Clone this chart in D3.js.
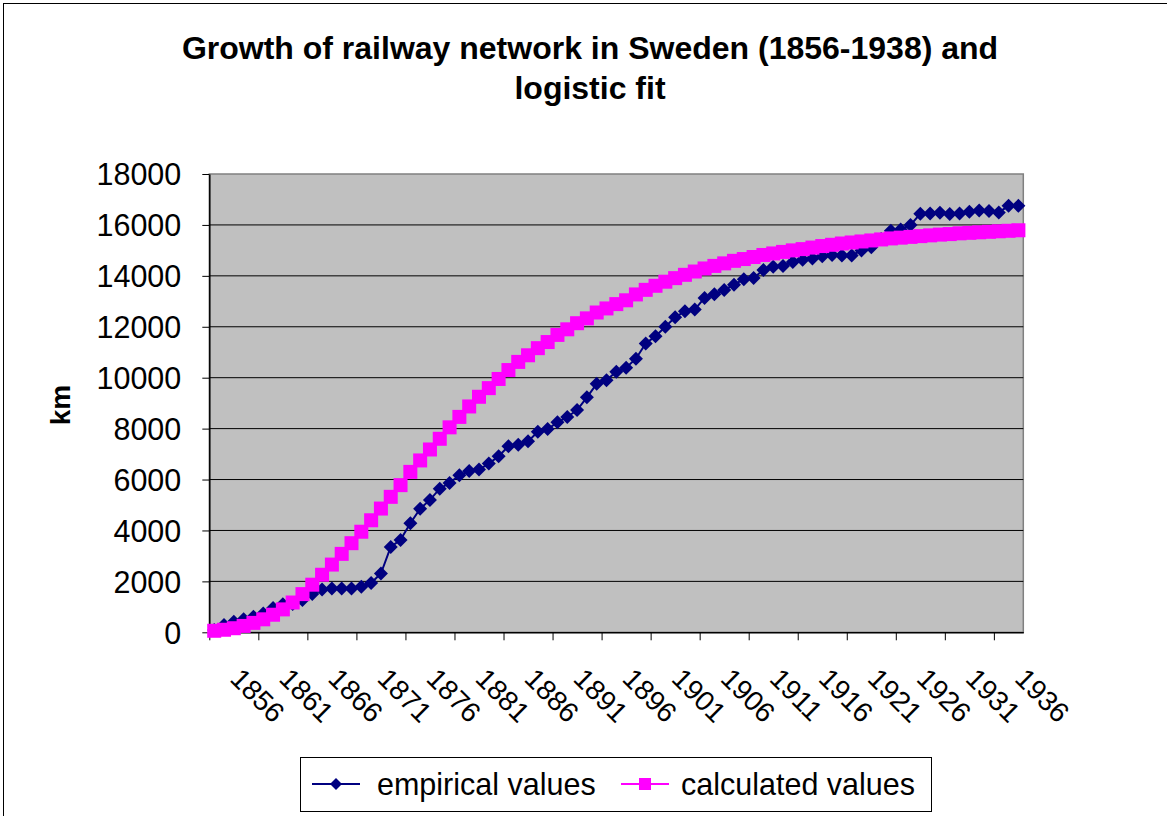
<!DOCTYPE html>
<html>
<head>
<meta charset="utf-8">
<script src="https://cdn.jsdelivr.net/npm/d3@7"></script>
<style>
  html, body { margin: 0; padding: 0; background: #ffffff; }
  svg { display: block; }
  text { font-family: "Liberation Sans", Arial, sans-serif; }
</style>
</head>
<body>
<svg id="chart" width="1167" height="816"></svg>
<script>
const years = [1856,1857,1858,1859,1860,1861,1862,1863,1864,1865,1866,1867,1868,1869,1870,
  1871,1872,1873,1874,1875,1876,1877,1878,1879,1880,1881,1882,1883,1884,1885,1886,1887,1888,
  1889,1890,1891,1892,1893,1894,1895,1896,1897,1898,1899,1900,1901,1902,1903,1904,1905,1906,
  1907,1908,1909,1910,1911,1912,1913,1914,1915,1916,1917,1918,1919,1920,1921,1922,1923,1924,
  1925,1926,1927,1928,1929,1930,1931,1932,1933,1934,1935,1936,1937,1938];

const empirical = [90,290,415,510,612,740,955,1100,1110,1265,1505,1684,1723,1720,1720,
  1790,1935,2310,3350,3630,4285,4855,5200,5640,5868,6165,6336,6390,6626,6915,7310,7370,7500,
  7876,7980,8245,8456,8730,9230,9760,9900,10235,10390,10745,11345,11632,12000,12370,12610,12675,13132,
  13280,13445,13655,13863,13915,14230,14358,14385,14548,14633,14680,14765,14820,14800,14800,15000,15120,15450,
  15770,15820,16000,16440,16450,16480,16430,16450,16520,16570,16550,16490,16750,16750];

const calculated = [60,100,160,250,370,510,690,900,1170,1500,1870,2260,2660,3080,3500,
  3950,4400,4860,5320,5780,6300,6750,7180,7600,8050,8460,8870,9250,9590,9950,10300,10620,10880,
  11160,11400,11680,11900,12140,12330,12560,12720,12890,13040,13270,13450,13610,13770,13910,14040,14170,14290,
  14390,14490,14590,14660,14740,14820,14880,14940,15000,15050,15110,15170,15220,15270,15310,15350,15390,15430,
  15470,15500,15530,15560,15590,15620,15640,15670,15690,15710,15730,15750,15770,15790];

const xTickLabels = ["1856","1861","1866","1871","1876","1881","1886","1891","1896","1901",
  "1906","1911","1916","1921","1926","1931","1936"];
const yTicks = [0,2000,4000,6000,8000,10000,12000,14000,16000,18000];
const seriesNames = ["empirical values","calculated values"];
const titleLines = ["Growth of railway network in Sweden (1856-1938) and","logistic fit"];
const yAxisTitle = "km";

const svg = d3.select("#chart");
const W = 1167, H = 816;
const plot = {left: 209.3, right: 1023.3, top: 174, bottom: 632.3};

svg.append("rect").attr("x",0).attr("y",0).attr("width",W).attr("height",H).attr("fill","#fff");
svg.append("rect").attr("x",3.5).attr("y",3.5).attr("width",1200).attr("height",900)
  .attr("fill","none").attr("stroke","#000").attr("stroke-width",1);

const x = d3.scaleBand().domain(years).range([plot.left, plot.right]).paddingInner(0).paddingOuter(0);
const xIdx = d3.scaleLinear().domain([0, years.length]).range([plot.left, plot.right]);
const y = d3.scaleLinear().domain([0,18000]).range([plot.bottom, plot.top]);
const cx = d => x(d) + x.bandwidth()/2;

svg.append("rect").attr("x",plot.left).attr("y",plot.top)
  .attr("width",plot.right-plot.left).attr("height",plot.bottom-plot.top)
  .attr("fill","#C0C0C0").attr("stroke","#808080").attr("stroke-width",1.5);

svg.append("g").selectAll("line").data(yTicks.filter(v => v>0 && v<18000)).join("line")
  .attr("x1",plot.left).attr("x2",plot.right)
  .attr("y1",d=>y(d)).attr("y2",d=>y(d))
  .attr("stroke","#000").attr("stroke-width",1);

const yAxis = svg.append("g").attr("transform",`translate(${plot.left},0)`)
  .call(d3.axisLeft(y).tickValues(yTicks).tickSize(7).tickSizeOuter(0).tickFormat(d3.format("d")));
yAxis.select(".domain").attr("stroke","#000").attr("stroke-width",1.5);
yAxis.selectAll(".tick line").attr("stroke","#000");
yAxis.selectAll(".tick text").attr("x",-28).attr("dy","0.36em")
  .style("font-size","30.5px").style("font-family","'Liberation Sans', Arial, sans-serif").attr("fill","#000");

const tickIdx = xTickLabels.map(l => years.indexOf(+l));
const xAxis = svg.append("g").attr("transform",`translate(0,${plot.bottom})`)
  .call(d3.axisBottom(xIdx).tickValues(tickIdx).tickSize(8).tickSizeOuter(0)
    .tickFormat((d,i) => xTickLabels[i]));
xAxis.select(".domain").attr("stroke","#000").attr("stroke-width",1.5);
xAxis.selectAll(".tick line").attr("stroke","#000");
xAxis.selectAll(".tick text")
  .attr("y",null).attr("dy",null)
  .attr("text-anchor","start")
  .attr("transform","translate(19,48) rotate(45)")
  .style("font-size","28px").style("font-family","'Liberation Sans', Arial, sans-serif").attr("fill","#000");

const line = d3.line().x((d,i)=>cx(years[i])).y(d=>y(d));
svg.append("path").datum(empirical).attr("d",line)
  .attr("fill","none").attr("stroke","#000080").attr("stroke-width",2);
const diamond = 7;
svg.append("g").selectAll("path").data(empirical).join("path")
  .attr("d",(d,i)=>{const px=cx(years[i]), py=y(d);
    return `M${px},${py-diamond}L${px+diamond},${py}L${px},${py+diamond}L${px-diamond},${py}Z`;})
  .attr("fill","#000080");

svg.append("path").datum(calculated).attr("d",line)
  .attr("fill","none").attr("stroke","#FF00FF").attr("stroke-width",2);
const sq = 7;
svg.append("g").selectAll("rect").data(calculated).join("rect")
  .attr("x",(d,i)=>cx(years[i])-sq).attr("y",d=>y(d)-sq)
  .attr("width",sq*2).attr("height",sq*2).attr("fill","#FF00FF");

svg.append("g").selectAll("text").data(titleLines).join("text")
  .attr("x",590).attr("y",(d,i)=>59+i*40).attr("text-anchor","middle")
  .style("font-size","32px").style("font-weight","bold").attr("fill","#000").text(d=>d);

svg.append("text").attr("transform","translate(70,405) rotate(-90)")
  .attr("text-anchor","middle").style("font-size","28px").style("font-weight","bold")
  .attr("fill","#000").text(yAxisTitle);

const lg = svg.append("g");
lg.append("rect").attr("x",300.5).attr("y",757.5).attr("width",631).attr("height",54)
  .attr("fill","#fff").attr("stroke","#000").attr("stroke-width",1);
const legItems = [
  {name: seriesNames[0], color:"#000080", x0:312, tx:377, marker:"diamond"},
  {name: seriesNames[1], color:"#FF00FF", x0:621, tx:681, marker:"square"}
];
const ly = 784;
legItems.forEach(it => {
  lg.append("line").attr("x1",it.x0).attr("x2",it.x0+48).attr("y1",ly).attr("y2",ly)
    .attr("stroke",it.color).attr("stroke-width",2);
  const mx = it.x0+24;
  if (it.marker==="diamond") {
    lg.append("path").attr("d",`M${mx},${ly-6}L${mx+6},${ly}L${mx},${ly+6}L${mx-6},${ly}Z`)
      .attr("fill",it.color);
  } else {
    lg.append("rect").attr("x",mx-6).attr("y",ly-6).attr("width",12).attr("height",12).attr("fill",it.color);
  }
  lg.append("text").attr("x",it.tx).attr("y",ly).attr("dy","0.36em")
    .style("font-size","30.5px").attr("fill","#000").text(it.name);
});
</script>
</body>
</html>
